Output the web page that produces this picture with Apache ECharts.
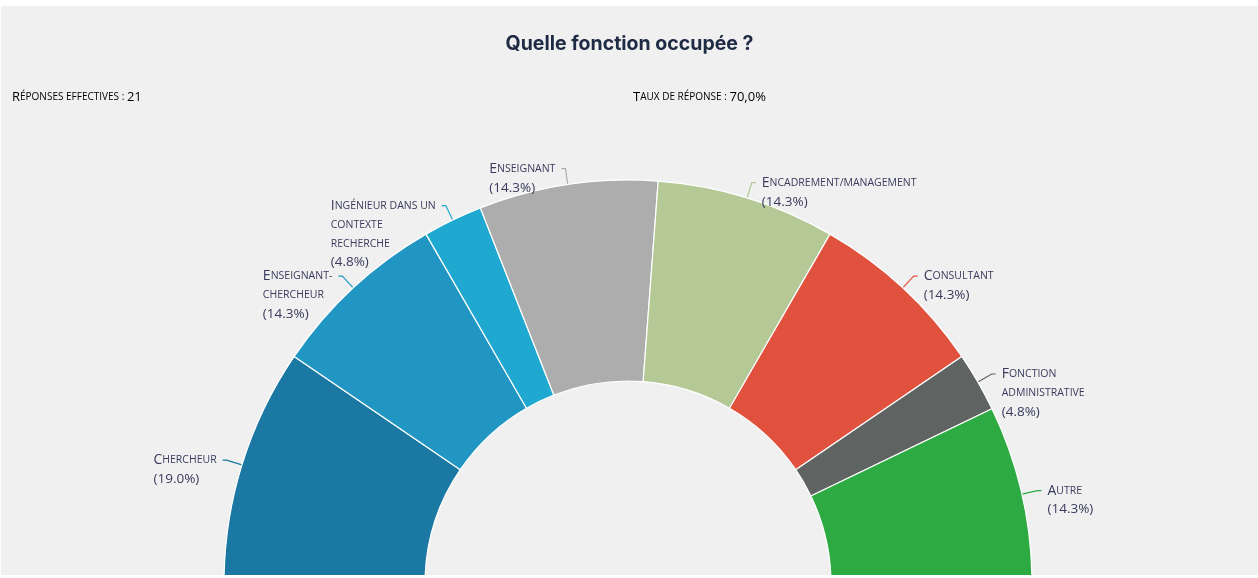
<!DOCTYPE html>
<html>
<head>
<meta charset="utf-8">
<script src="https://cdn.jsdelivr.net/npm/echarts@6/dist/echarts.min.js"></script>
<style>
  html, body { margin: 0; padding: 0; background: #ffffff; }
  #panel { position: absolute; left: 1px; top: 6px; width: 1257px; height: 569px; background: #eff0ef; }
  #chart { width: 100%; height: 100%; }
</style>
</head>
<body>
<div id="panel"><div id="chart"></div></div>
<script>
// Survey: "Quelle fonction occupée ?" — number of respondents per job type
const categories = [
  'Chercheur',
  'Enseignant-\nchercheur',
  'Ingénieur dans un\ncontexte\nrecherche',
  'Enseignant',
  'Encadrement/management',
  'Consultant',
  'Fonction\nadministrative',
  'Autre'
];
const counts = [4, 3, 1, 3, 3, 3, 1, 3];
const sliceColors = ['#1a78a2', '#2196c3', '#1fa9d0', '#adadad', '#b4c996', '#e0523e', '#5f6362', '#2eaa42'];
const effectiveResponses = 21;
const responseRate = '70,0%';

const textColor = '#3b3a5e';
const lineH = 19;
const total = counts.reduce((a, b) => a + b, 0);

// Render text as small caps: capitals stay large, lowercase become reduced capitals
function smallCaps(text, big, small) {
  let out = '';
  for (const ch of text) {
    if (ch === '\n') { out += '\n'; continue; }
    const isUpper = ch !== ch.toLowerCase() && ch === ch.toUpperCase();
    out += '{' + (isUpper ? big : small) + '|' + ch.toUpperCase() + '}';
  }
  return out;
}

const headerRich = {
  hc: { fontFamily: 'Open Sans', fontSize: 13, color: textColor },
  hs: { fontFamily: 'Open Sans', fontSize: 10, color: textColor },
  hn: { fontFamily: 'Open Sans', fontSize: 13, color: textColor }
};

const chart = echarts.init(document.getElementById('chart'));
chart.setOption({
  backgroundColor: 'transparent',
  title: {
    text: 'Quelle fonction occupée ?',
    left: 'center',
    top: 23,
    textStyle: { fontFamily: 'Inter', fontWeight: 'bold', fontSize: 19.5, color: '#1f2a44' }
  },
  graphic: [
    {
      type: 'text', left: 11, top: 85,
      style: { text: smallCaps('Réponses effectives : ', 'hc', 'hs') + '{hn|' + effectiveResponses + '}', rich: headerRich }
    },
    {
      type: 'text', left: 632, top: 85,
      style: { text: smallCaps('Taux de réponse : ', 'hc', 'hs') + '{hn|' + responseRate + '}', rich: headerRich }
    }
  ],
  series: [{
    type: 'pie',
    center: [627, 578],
    radius: [203, 404],
    startAngle: 180,
    endAngle: 360,
    clockwise: true,
    avoidLabelOverlap: false,
    itemStyle: { borderColor: '#ffffff', borderWidth: 1.2 },
    labelLine: { show: true, length: 16, length2: 4, smooth: false, lineStyle: { width: 1.2 } },
    label: {
      show: true,
      position: 'outside',
      distanceToLabelLine: 6,
      color: textColor,
      formatter: p => smallCaps(p.name, 'c', 's') + '\n{p|(' + (p.value / total * 100).toFixed(1) + '%)}',
      rich: {
        c: { fontFamily: 'Open Sans', fontSize: 14, lineHeight: lineH, color: textColor, align: 'left' },
        s: { fontFamily: 'Open Sans', fontSize: 10.5, lineHeight: lineH, color: textColor, align: 'left' },
        p: { fontFamily: 'Open Sans', fontSize: 13.5, lineHeight: lineH, color: textColor, align: 'left' }
      }
    },
    // first text line sits level with the end of the label line
    labelLayout: () => ({ verticalAlign: 'top', dy: -lineH / 2 }),
    data: categories.map((name, i) => ({
      name, value: counts[i],
      itemStyle: { color: sliceColors[i] },
      labelLine: { lineStyle: { color: sliceColors[i] } }
    }))
  }]
});
</script>
</body>
</html>
